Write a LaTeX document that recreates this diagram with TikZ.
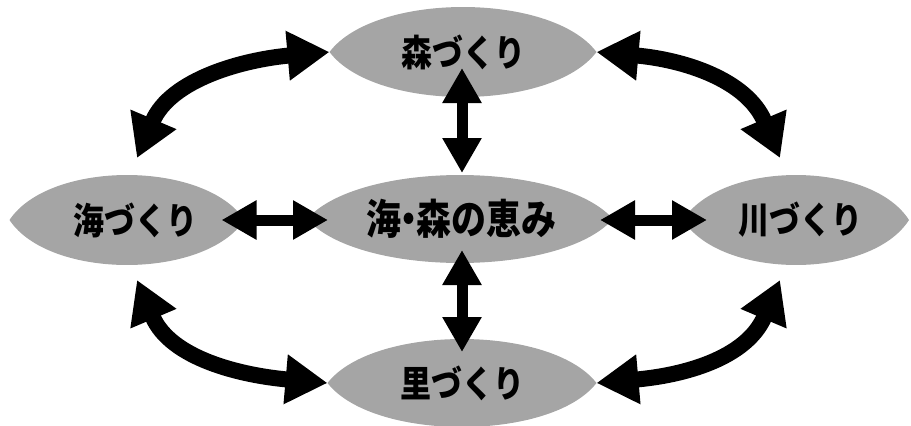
\documentclass[tikz,border=0pt]{standalone}
\usepackage{fontspec}
\newfontfamily\jp{Noto Sans CJK JP}
\usetikzlibrary{arrows.meta,calc,shapes.geometric,backgrounds}
\definecolor{lensgray}{RGB}{165,165,165}
\newcommand{\tallt}[1]{\scalebox{1}[1.18]{#1}}
\tikzset{
  blob/.style={ellipse, inner sep=0pt, outer sep=0pt, font=\jp\bfseries\fontsize{31}{31}\selectfont},
  lensfill/.style={fill=lensgray},
  curvearrow/.style={line width=16pt, {Triangle[length=42pt,width=47pt]}-{Triangle[length=42pt,width=47pt]}},
  straightarrow/.style={line width=11pt, {Triangle[length=35pt,width=37pt]}-{Triangle[length=35pt,width=37pt]}}
}
\begin{document}
\begin{tikzpicture}[x=1pt,y=-1pt]
\useasboundingbox (0,0) rectangle (911,426);
\node[blob, minimum width=267pt, minimum height=90pt] (mori) at (463,52) {\raisebox{-3pt}{\tallt{森づくり}}};
\node[blob, minimum width=306pt, minimum height=88pt] (megumi) at (460,219) {\raisebox{-5pt}{\hspace*{3pt}\tallt{\fontsize{35}{35}\selectfont 海\kern-10pt・\kern-10pt森の恵み}}};
\node[blob, minimum width=235pt, minimum height=90pt] (umi) at (127,220) {\raisebox{-2pt}{\hspace*{16pt}\tallt{海づくり}}};
\node[blob, minimum width=226pt, minimum height=90pt] (kawa) at (796,220) {\raisebox{-1pt}{\hspace*{8pt}\tallt{川づくり}}};
\node[blob, minimum width=269pt, minimum height=88pt] (sato) at (462,383) {\raisebox{-6pt}{\tallt{里づくり}}};
\begin{scope}[on background layer]
\foreach \n/\a/\b in {mori/133.5/45, megumi/153/44, umi/117.5/45, kawa/113/45, sato/134.5/44} {
  \fill[lensfill] (\n.west) .. controls ($(\n.center)+(-0.66*\a,-1.333*\b)$) and ($(\n.center)+(0.66*\a,-1.333*\b)$) .. (\n.east)
     .. controls ($(\n.center)+(0.66*\a,1.333*\b)$) and ($(\n.center)+(-0.66*\a,1.333*\b)$) .. (\n.west) -- cycle;
}
\end{scope}
% straight arrows
\draw[straightarrow] ($(mori.south)+(-1,-29)$) -- ($(megumi.north)+(2,-2)$);
\draw[straightarrow] ($(megumi.south)+(2,-13)$) -- ($(sato.north)+(0,13)$);
\draw[straightarrow] ($(umi.east)+(-23,0)$) -- ($(megumi.west)+(21,1)$);
\draw[straightarrow] ($(megumi.east)+(-13,1)$) -- ($(kawa.west)+(24,0)$);
% curved arrows
\draw[curvearrow] ($(umi.north)+(10,-17)$) .. controls +(33.6,-79) and +(-85.7,7.5) .. (mori.west);
\draw[curvearrow] (mori.east) .. controls +(85.7,7.5) and +(-33.6,-79) .. ($(kawa.north)+(-16,-17)$);
\draw[curvearrow] ($(umi.south)+(10,15)$) .. controls +(33.6,79) and +(-85.7,-7.5) .. (sato.west);
\draw[curvearrow] (sato.east) .. controls +(85.7,-7.5) and +(-33.6,79) .. ($(kawa.south)+(-16,15)$);
\end{tikzpicture}
\end{document}
